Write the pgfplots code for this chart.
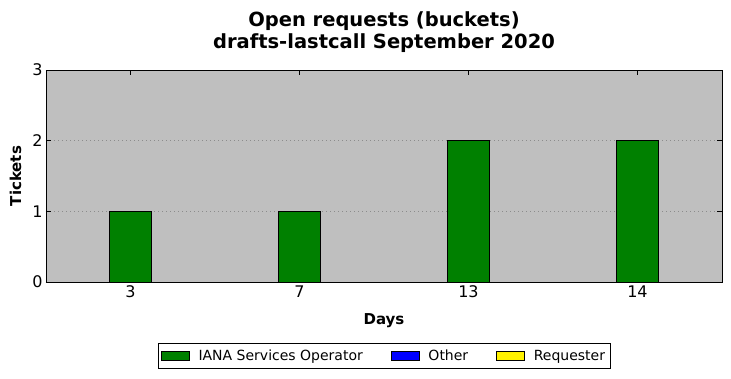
\documentclass[border=0pt]{standalone}
\usepackage{fontspec}
\setmainfont{DejaVu Sans}
\usepackage{pgfplots}
\pgfplotsset{compat=1.18}
\definecolor{bg}{RGB}{191,191,191}
\definecolor{mplgreen}{RGB}{0,128,0}
\begin{document}
\begin{tikzpicture}
\begin{axis}[
  scale only axis, width=676pt, height=212pt,
  xmin=-0.5, xmax=3.5, ymin=0, ymax=3,
  xtick={0,1,2,3}, xticklabels={3,7,13,14},
  ytick={0,1,2,3},
  tick align=inside, major tick length=5pt,
  tick style={black, line width=0.6pt},
  axis line style={black, line width=0.8pt},
  axis background/.style={fill=bg},
  ymajorgrids, grid style={dash pattern=on 1pt off 3pt, black!45, line width=0.5pt},
  ticklabel style={font=\fontsize{16}{16}\selectfont},
  /pgf/number format/assume math mode=true,
  xlabel={\bfseries Days}, ylabel={\bfseries Tickets},
  label style={font=\fontsize{15}{15}\selectfont},
  xlabel style={yshift=-9pt},
  ylabel style={yshift=4pt},
  title style={font=\bfseries\fontsize{19.5}{22}\selectfont, align=center, yshift=8pt},
  title={Open requests (buckets)\\drafts-lastcall September 2020},
  legend columns=3,
  legend style={at={(rel axis cs:0.5,0)}, anchor=north, yshift=-61pt,
    font=\fontsize{14}{14}\selectfont, draw=black, line width=0.6pt,
    /tikz/every even column/.append style={column sep=26pt},
    /tikz/every odd column/.append style={column sep=7pt},
    inner xsep=3pt, inner ysep=4.5pt},
  legend image code/.code={\draw[#1, draw=black, line width=0.6pt] (0pt,-4.5pt) rectangle (28pt,4.5pt);},
]
\addplot[ybar, bar width=42pt, fill=mplgreen, draw=black, line width=0.8pt] coordinates {(0,1) (1,1) (2,2) (3,2)};
\addlegendentry{IANA Services Operator}
\addlegendimage{fill=blue}
\addlegendentry{Other}
\addlegendimage{fill=yellow}
\addlegendentry{Requester}
\end{axis}
\path (-46pt,-96pt) rectangle (685pt,282pt);
\end{tikzpicture}
\end{document}
